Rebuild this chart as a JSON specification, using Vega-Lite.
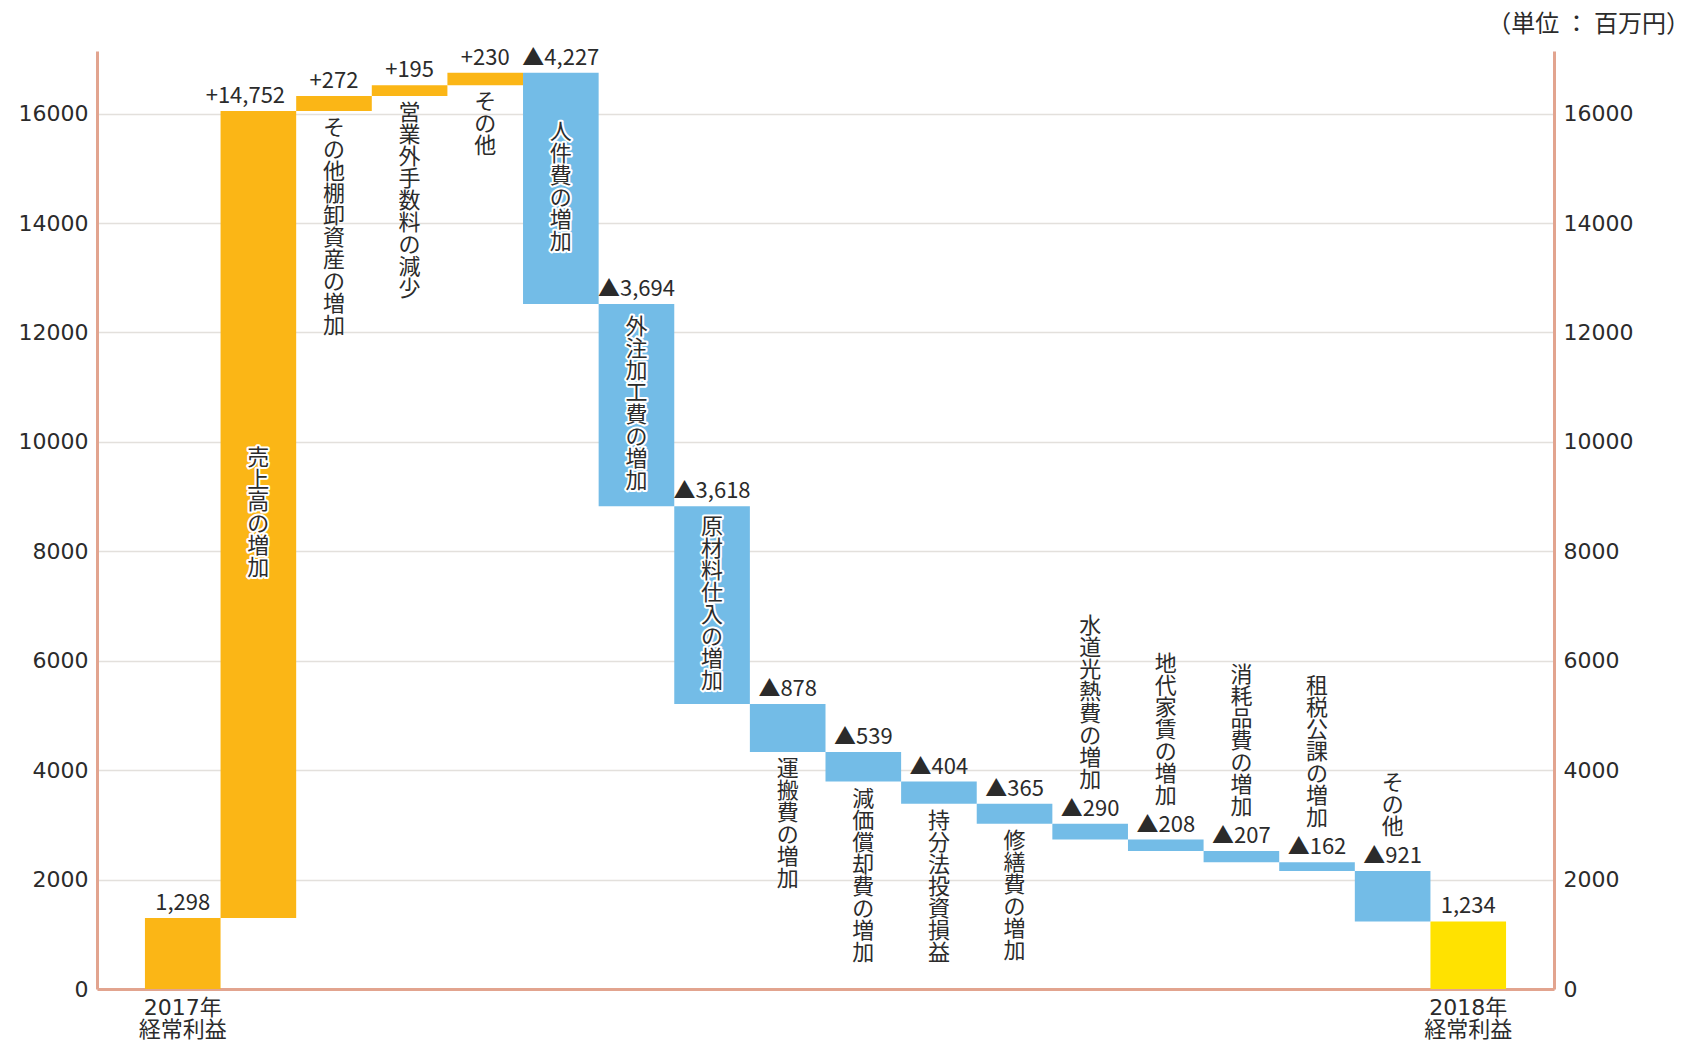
{
  "$schema": "https://vega.github.io/schema/vega-lite/v6.json",
  "width": 1457,
  "height": 938,
  "autosize": {"type": "none"},
  "padding": {"left": 97, "top": 51, "right": 137, "bottom": 54},
  "background": "white",
  "title": {
    "text": "（単位 ： 百万円）",
    "anchor": "end",
    "frame": "group",
    "dx": 136,
    "offset": 10,
    "fontSize": 24,
    "font": "Noto Sans CJK JP",
    "fontWeight": "normal",
    "color": "#2b2b2b"
  },
  "data": {
    "values": [
      {"order": 1, "label": "", "lo": 0, "hi": 1298, "kind": "total", "vlabel": "1,298"},
      {"order": 2, "label": "売\n上\n高\nの\n増\n加", "lo": 1298, "hi": 16050, "kind": "increase", "vlabel": "+14,752"},
      {"order": 3, "label": "そ\nの\n他\n棚\n卸\n資\n産\nの\n増\n加", "lo": 16050, "hi": 16322, "kind": "increase", "vlabel": "+272"},
      {"order": 4, "label": "営\n業\n外\n手\n数\n料\nの\n減\n少", "lo": 16322, "hi": 16517, "kind": "increase", "vlabel": "+195"},
      {"order": 5, "label": "そ\nの\n他", "lo": 16517, "hi": 16747, "kind": "increase", "vlabel": "+230"},
      {"order": 6, "label": "人\n件\n費\nの\n増\n加", "lo": 12520, "hi": 16747, "kind": "decrease", "vlabel": "▲4,227"},
      {"order": 7, "label": "外\n注\n加\n工\n費\nの\n増\n加", "lo": 8826, "hi": 12520, "kind": "decrease", "vlabel": "▲3,694"},
      {"order": 8, "label": "原\n材\n料\n仕\n入\nの\n増\n加", "lo": 5208, "hi": 8826, "kind": "decrease", "vlabel": "▲3,618"},
      {"order": 9, "label": "運\n搬\n費\nの\n増\n加", "lo": 4330, "hi": 5208, "kind": "decrease", "vlabel": "▲878"},
      {"order": 10, "label": "減\n価\n償\n却\n費\nの\n増\n加", "lo": 3791, "hi": 4330, "kind": "decrease", "vlabel": "▲539"},
      {"order": 11, "label": "持\n分\n法\n投\n資\n損\n益", "lo": 3387, "hi": 3791, "kind": "decrease", "vlabel": "▲404"},
      {"order": 12, "label": "修\n繕\n費\nの\n増\n加", "lo": 3022, "hi": 3387, "kind": "decrease", "vlabel": "▲365"},
      {"order": 13, "label": "水\n道\n光\n熱\n費\nの\n増\n加", "lo": 2732, "hi": 3022, "kind": "decrease", "vlabel": "▲290"},
      {"order": 14, "label": "地\n代\n家\n賃\nの\n増\n加", "lo": 2524, "hi": 2732, "kind": "decrease", "vlabel": "▲208"},
      {"order": 15, "label": "消\n耗\n品\n費\nの\n増\n加", "lo": 2317, "hi": 2524, "kind": "decrease", "vlabel": "▲207"},
      {"order": 16, "label": "租\n税\n公\n課\nの\n増\n加", "lo": 2155, "hi": 2317, "kind": "decrease", "vlabel": "▲162"},
      {"order": 17, "label": "そ\nの\n他", "lo": 1234, "hi": 2155, "kind": "decrease", "vlabel": "▲921"},
      {"order": 18, "label": "", "lo": 0, "hi": 1234, "kind": "final", "vlabel": "1,234"}
    ]
  },
  "encoding": {
    "x": {
      "field": "order",
      "type": "ordinal",
      "scale": {"paddingInner": 0, "paddingOuter": 0.634},
      "axis": {
        "title": null,
        "labelAngle": 0,
        "ticks": false,
        "domainColor": "#E2A48F",
        "domainWidth": 3,
        "labelPadding": 8,
        "labelFont": "DejaVu Sans, Noto Sans CJK JP",
        "labelFontSize": 22,
        "labelLineHeight": 22,
        "labelColor": "#2b2b2b",
        "labelBaseline": "top",
        "labelExpr": "datum.value == 1 ? ['2017年', '経常利益'] : datum.value == 18 ? ['2018年', '経常利益'] : ''"
      }
    }
  },
  "layer": [
    {
      "mark": {"type": "bar"},
      "encoding": {
        "y": {
          "field": "lo",
          "type": "quantitative",
          "scale": {"domain": [0, 17145], "nice": false, "zero": true},
          "axis": {
            "orient": "left",
            "title": null,
            "values": [0, 2000, 4000, 6000, 8000, 10000, 12000, 14000, 16000],
            "format": "d",
            "ticks": false,
            "grid": true,
            "gridColor": "#E3E0DC",
            "gridWidth": 1.5,
            "domainColor": "#E2A48F",
            "domainWidth": 3,
            "labelPadding": 9,
            "labelFont": "DejaVu Sans",
            "labelFontSize": 22,
            "labelColor": "#2b2b2b"
          }
        },
        "y2": {"field": "hi"},
        "color": {
          "field": "kind",
          "type": "nominal",
          "scale": {"domain": ["total", "increase", "decrease", "final"], "range": ["#FBB616", "#FBB616", "#73BCE7", "#FFE200"]},
          "legend": null
        }
      }
    },
    {
      "transform": [{"filter": "datum.order != 2"}],
      "mark": {"type": "text", "font": "Noto Sans CJK JP", "fontSize": 22, "baseline": "alphabetic", "dy": -8, "color": "#2b2b2b"},
      "encoding": {
        "y": {
          "field": "hi",
          "type": "quantitative",
          "axis": {
            "orient": "right",
            "title": null,
            "values": [0, 2000, 4000, 6000, 8000, 10000, 12000, 14000, 16000],
            "format": "d",
            "ticks": false,
            "grid": false,
            "domainColor": "#E2A48F",
            "domainWidth": 3,
            "labelPadding": 9,
            "labelFont": "DejaVu Sans",
            "labelFontSize": 22,
            "labelColor": "#2b2b2b"
          }
        },
        "text": {"field": "vlabel"}
      }
    },
    {
      "transform": [{"filter": "datum.order == 2"}],
      "mark": {"type": "text", "font": "Noto Sans CJK JP", "fontSize": 22, "baseline": "alphabetic", "dy": -8, "dx": -13, "color": "#2b2b2b"},
      "encoding": {
        "y": {"field": "hi", "type": "quantitative", "axis": null},
        "text": {"field": "vlabel"}
      }
    },
    {
      "transform": [
        {"filter": {"field": "order", "oneOf": [2, 6, 7, 8]}},
        {"fold": ["lo", "hi"], "as": ["k", "v"]},
        {"aggregate": [{"op": "mean", "field": "v", "as": "mid"}], "groupby": ["order", "label"]}
      ],
      "encoding": {
        "y": {"field": "mid", "type": "quantitative", "axis": null},
        "text": {"field": "label"}
      },
      "layer": [
        {"transform": [{"filter": {"field": "order", "oneOf": [2, 6]}}], "mark": {"type": "text", "font": "Noto Sans CJK JP", "fontSize": 22, "lineHeight": 22, "lineBreak": "\n", "baseline": "top", "dy": -66, "fill": "white", "stroke": "white", "strokeWidth": 4, "strokeJoin": "round"}},
        {"transform": [{"filter": {"field": "order", "oneOf": [7, 8]}}], "mark": {"type": "text", "font": "Noto Sans CJK JP", "fontSize": 22, "lineHeight": 22, "lineBreak": "\n", "baseline": "top", "dy": -88, "fill": "white", "stroke": "white", "strokeWidth": 4, "strokeJoin": "round"}},
        {"transform": [{"filter": {"field": "order", "oneOf": [2, 6]}}], "mark": {"type": "text", "font": "Noto Sans CJK JP", "fontSize": 22, "lineHeight": 22, "lineBreak": "\n", "baseline": "top", "dy": -66, "color": "#2b2b2b"}},
        {"transform": [{"filter": {"field": "order", "oneOf": [7, 8]}}], "mark": {"type": "text", "font": "Noto Sans CJK JP", "fontSize": 22, "lineHeight": 22, "lineBreak": "\n", "baseline": "top", "dy": -88, "color": "#2b2b2b"}}
      ]
    },
    {
      "transform": [{"filter": {"field": "order", "oneOf": [3, 4, 5, 9, 10, 11, 12]}}],
      "mark": {"type": "text", "font": "Noto Sans CJK JP", "fontSize": 22, "lineHeight": 22, "lineBreak": "\n", "baseline": "top", "dy": 7, "color": "#2b2b2b"},
      "encoding": {
        "y": {"field": "lo", "type": "quantitative", "axis": null},
        "text": {"field": "label"}
      }
    },
    {
      "encoding": {
        "y": {"field": "hi", "type": "quantitative", "axis": null},
        "text": {"field": "label"}
      },
      "layer": [
        {"transform": [{"filter": {"field": "order", "oneOf": [13]}}], "mark": {"type": "text", "font": "Noto Sans CJK JP", "fontSize": 22, "lineHeight": 22, "lineBreak": "\n", "baseline": "top", "dy": -208, "color": "#2b2b2b"}},
        {"transform": [{"filter": {"field": "order", "oneOf": [14, 15, 16]}}], "mark": {"type": "text", "font": "Noto Sans CJK JP", "fontSize": 22, "lineHeight": 22, "lineBreak": "\n", "baseline": "top", "dy": -186, "color": "#2b2b2b"}},
        {"transform": [{"filter": {"field": "order", "oneOf": [17]}}], "mark": {"type": "text", "font": "Noto Sans CJK JP", "fontSize": 22, "lineHeight": 22, "lineBreak": "\n", "baseline": "top", "dy": -98, "color": "#2b2b2b"}}
      ]
    }
  ],
  "resolve": {"axis": {"y": "independent"}},
  "config": {
    "view": {"stroke": null}
  }
}
